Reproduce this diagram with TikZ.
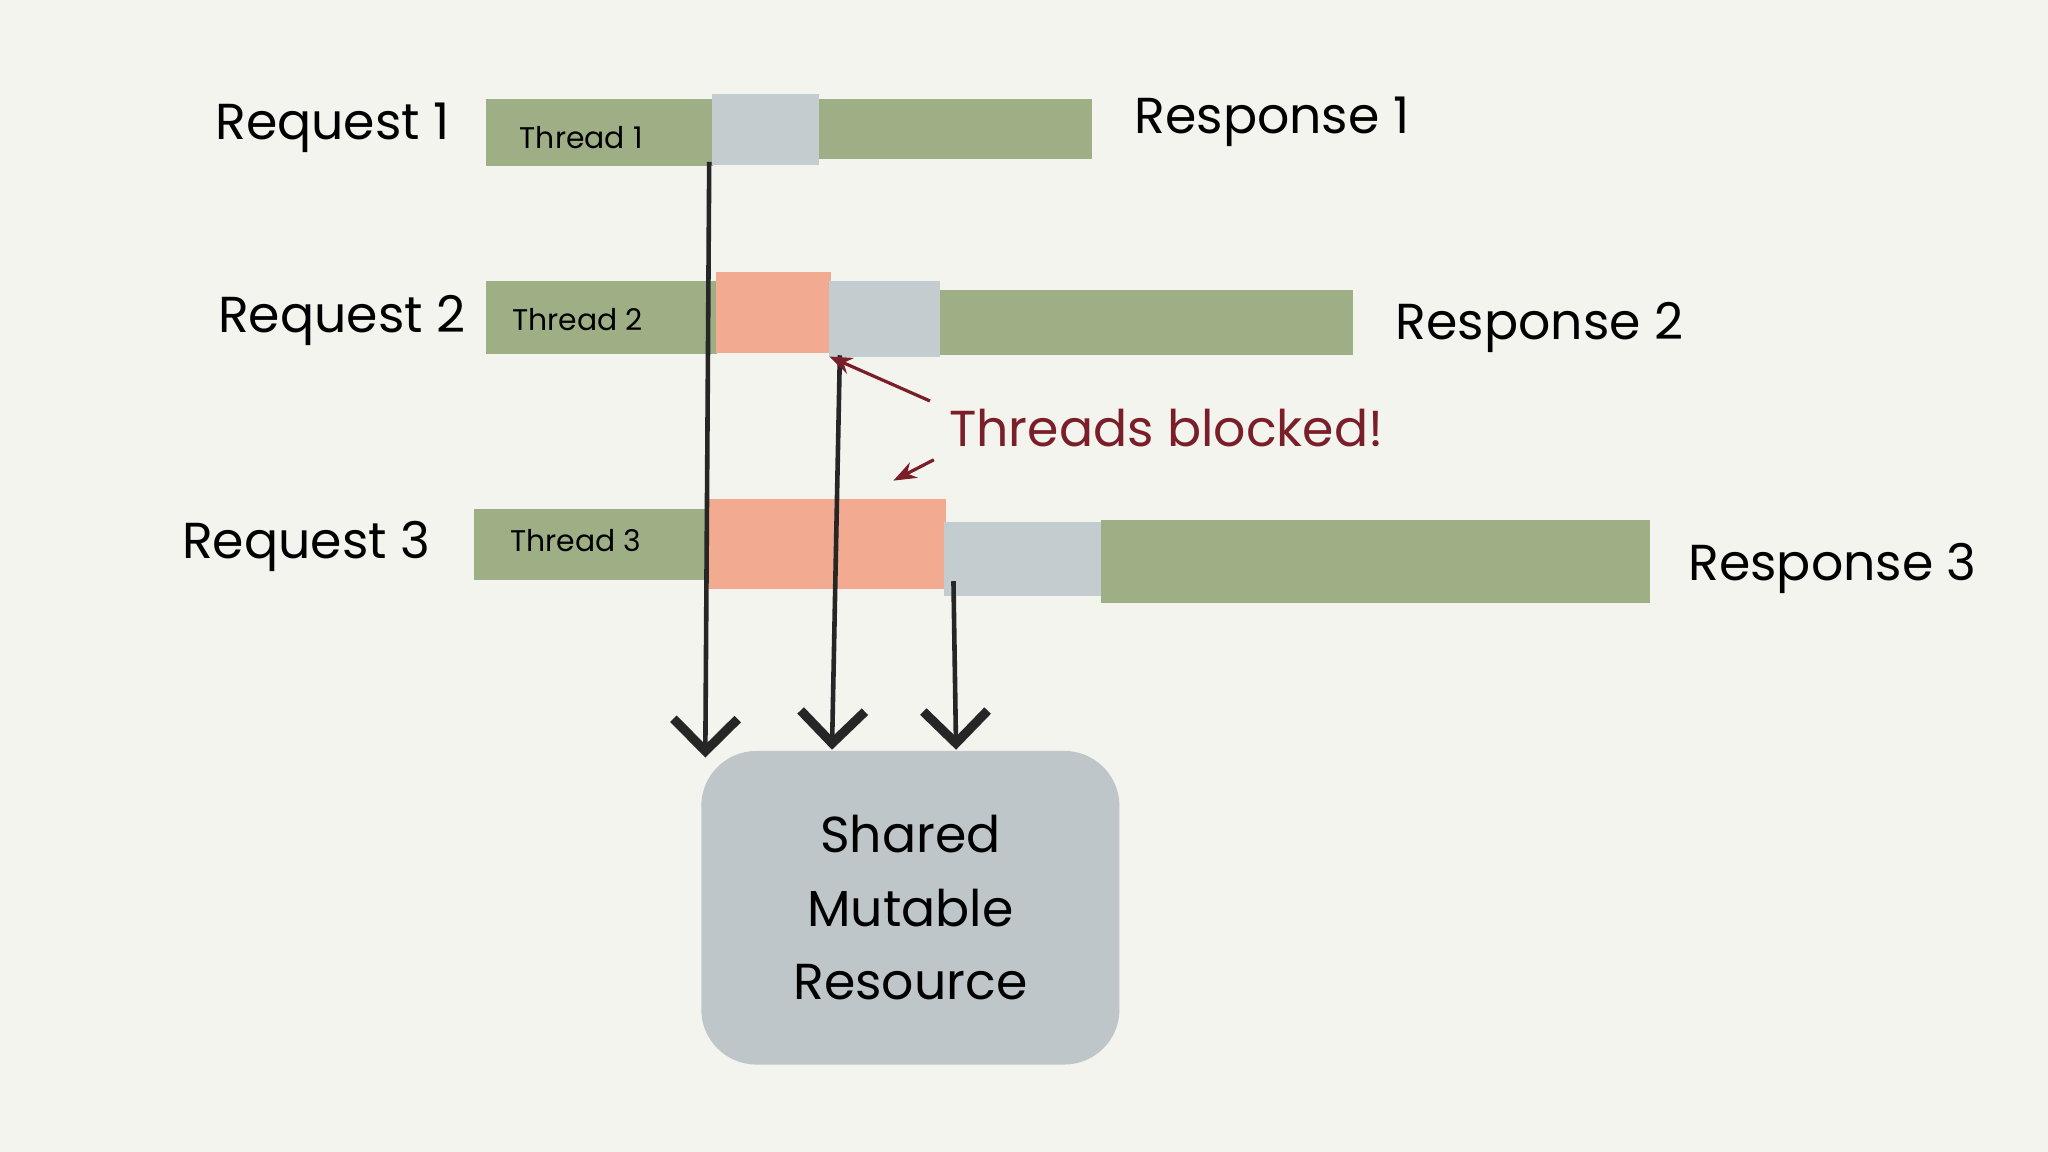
\documentclass[tikz,border=0pt]{standalone}
\usepackage{fontspec}
\setmainfont{Poppins}
\usetikzlibrary{arrows.meta}
\definecolor{bg}{HTML}{F4F4EE}
\definecolor{grn}{HTML}{9EAE85}
\definecolor{blu}{HTML}{C3CCCE}
\definecolor{sal}{HTML}{F2AA90}
\definecolor{dred}{HTML}{7A1F2A}
\definecolor{boxc}{HTML}{BEC6CA}
\begin{document}
\begin{tikzpicture}[x=0.01cm,y=-0.01cm,
  bar/.style={inner sep=0,outer sep=0},
  lbl/.style={font=\fontsize{11}{12}\selectfont,inner sep=0},
  thr/.style={font=\fontsize{6.5}{7}\selectfont},
  conn/.style={draw=black!85,line width=1pt,-{Straight Barb[length=7pt,width=14pt,line width=2pt]}},
  note/.style={draw=dred,line width=0.7pt,-{Stealth[length=5pt]}}]
\fill[bg] (0,0) rectangle (1568,882);
\newcommand{\barr}[6]{\node[bar,fill=#6,minimum width={(#3-#2)*0.01cm},minimum height={(#5-#4)*0.01cm}] (#1) at ({(#2+#3)/2},{(#4+#5)/2}) {};}
% row 1
\barr{g1a}{372}{546}{76}{127}{grn}
\barr{b1}{545}{627}{72}{126}{blu}
\barr{g1b}{627}{836}{76}{122}{grn}
% row 2
\barr{g2a}{372}{549}{215}{271}{grn}
\barr{s2}{548}{636}{208}{270}{sal}
\barr{b2}{635}{720}{215}{273}{blu}
\barr{g2b}{720}{1036}{222}{272}{grn}
% row 3
\barr{g3a}{363}{541}{390}{444}{grn}
\barr{s3}{540}{724}{382}{451}{sal}
\barr{b3}{723}{843}{400}{456}{blu}
\barr{g3b}{843}{1263}{398}{462}{grn}
% box
\node[fill=boxc,rounded corners=12pt,minimum width=3.2cm,minimum height=2.4cm,align=center,font=\fontsize{11}{16}\selectfont] (res) at (697,695) {Shared\\Mutable\\Resource};
% labels
\node[lbl,anchor=east] (r1) at (345,98) {Request 1};
\node[lbl,anchor=east] (r2) at (357,245) {Request 2};
\node[lbl,anchor=east] (r3) at (330,418) {Request 3};
\node[lbl,anchor=west] (p1) at (868,93) {Response 1};
\node[lbl,anchor=west] (p2) at (1068,251) {Response 2};
\node[lbl,anchor=west] (p3) at (1292,435) {Response 3};
\node[thr] (t1) at (445,105) {Thread 1};
\node[thr] (t2) at (442,245) {Thread 2};
\node[thr] (t3) at (441,414) {Thread 3};
\node[lbl,text=dred,anchor=west] (tb) at (726,328) {Threads blocked!};
% connectors
\coordinate (a1) at (543,124);
\coordinate (a2) at (643,272);
\coordinate (a3) at (730,445);
\coordinate (e1) at (540,580);
\coordinate (e2) at (637,574);
\coordinate (e3) at (732,574);
\draw[conn] (a1) -- (e1);
\draw[conn] (a2) -- (e2);
\draw[conn] (a3) -- (e3);
\coordinate (n1) at (712,307);
\coordinate (n2) at (715,352);
\coordinate (m2) at (684,368);
\draw[note] (n1) -- (b2.south west);
\draw[note] (n2) -- (m2);
\end{tikzpicture}
\end{document}
